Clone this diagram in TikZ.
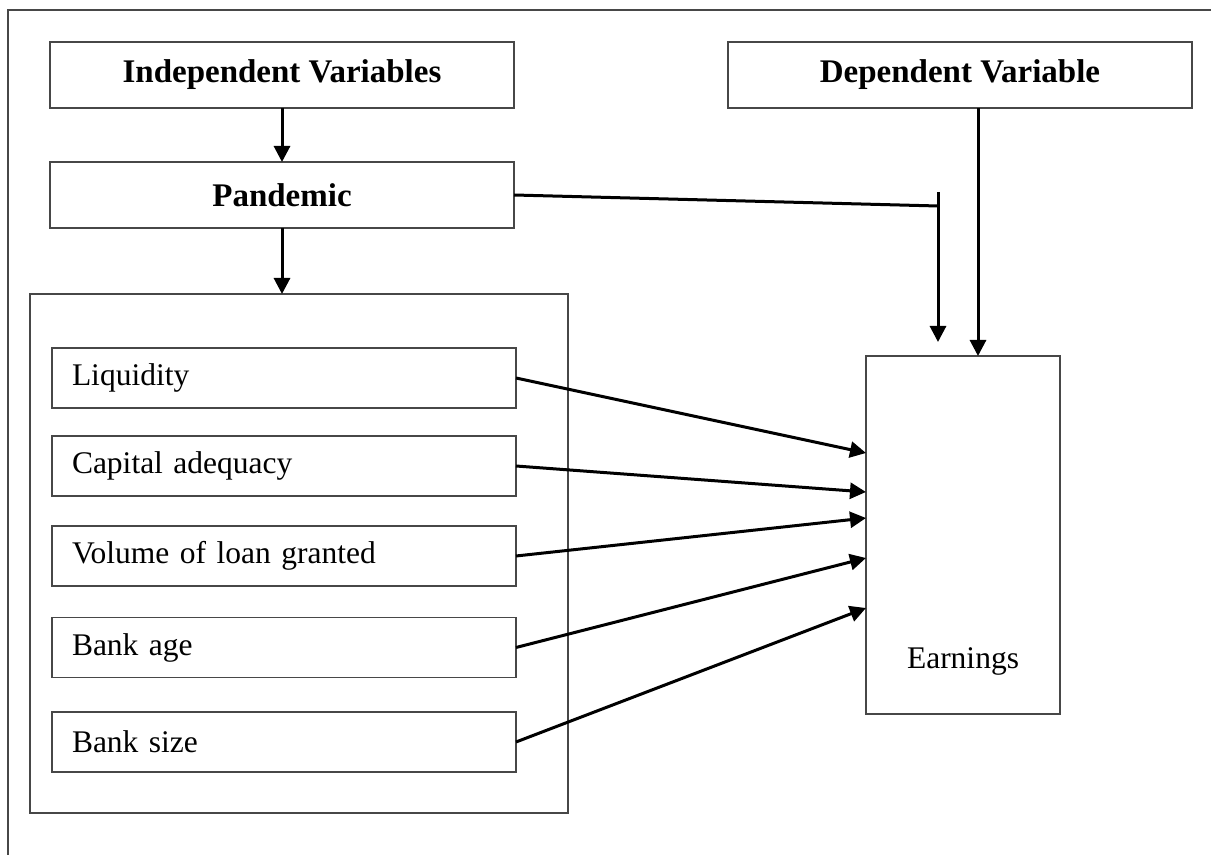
\documentclass[tikz,border=0pt]{standalone}
\usepackage{fontspec}
\setmainfont{Liberation Serif}
\usetikzlibrary{arrows.meta,positioning,calc}

\begin{document}
\begin{tikzpicture}[
  x=0.5pt, y=-0.5pt,
  box/.style={draw=black!72, line width=0.65pt, inner sep=0pt, outer sep=0pt,
              font=\fontsize{15.75}{19}\selectfont},
  head/.style={box, font=\fontsize{16.5}{19}\selectfont\bfseries,
               minimum width=232pt, minimum height=33pt},
  item/.style={box, text width=212pt, inner xsep=10pt, align=left,
               minimum height=30pt},
  ar/.style={-{Triangle[length=8pt, width=8pt]}, line width=1.5pt, black},
  ln/.style={line width=1.5pt, black}
]
\useasboundingbox (0,0) rectangle (1211,855);
% outer frame (only top and left edges show)
\draw[draw=black!72, line width=0.65pt] (8,855) |- (1211,10);

\node[head] (indep) at (282,75) {Independent Variables};
\node[head] (dep) at (960,75) {Dependent Variable};
\node[head] (pand) at (282,195) {Pandemic};

\node[box, minimum width=269pt, minimum height=259.5pt] (grp) at (299,553.5) {};
\node[item] (liq) at (284,378) {Liquidity};
\node[item] (cap) at (284,466) {Capital adequacy};
\node[item] (vol) at (284,556) {Volume of loan granted};
\node[item] (age) at (284,647.5) {Bank age};
\node[item] (size) at (284,742) {Bank size};

\node[box, minimum width=97pt, minimum height=179pt] (earn) at (963,535) {};
\node[font=\fontsize{15.75}{19}\selectfont] (earntxt) at (963,661) {Earnings};

\draw[ar] (indep.south) -- (pand.north);
\draw[ar] (pand.south) -- (pand.south |- grp.north);

% pandemic moderates the link
\coordinate (junc) at (938,206);
\coordinate (tick) at (938,192);
\draw[ln] (pand.east) -- (junc);
\draw[ar] (tick) -- (938,342);
\draw[ar] (dep.south -| 978,0) -- (earn.north -| 978,0);

\foreach \n/\y in {liq/453,cap/492,vol/518,age/558,size/608}
  \draw[ar] (\n.east) -- (earn.west |- 0,\y);
\end{tikzpicture}
\end{document}
